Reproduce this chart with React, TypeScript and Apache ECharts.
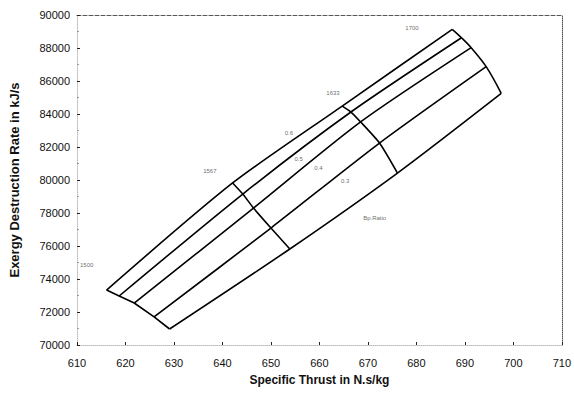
import React, { useEffect, useRef } from "react";
import * as echarts from "echarts";

// Carpet plot nodes: one array per temperature cross-line, points ordered from top curve to bottom curve
const temperatures = ["1500", "1567", "1633", "1700"];
const ratioLabels = ["0.6", "0.5", "0.4", "0.3"];

const thrustT1 = [616.1, 618.7, 621.8, 625.9, 629.1];
const exergyT1 = [73330, 72970, 72545, 71700, 70970];
const thrustT2 = [642.1, 644.2, 646.4, 650.0, 653.9];
const exergyT2 = [79820, 79150, 78300, 77090, 75820];
const thrustT3 = [664.7, 666.5, 668.5, 672.4, 676.1];
const exergyT3 = [84480, 84120, 83520, 82240, 80420];
const thrustT4 = [687.4, 689.3, 691.3, 694.4, 697.5];
const exergyT4 = [89130, 88620, 88020, 86870, 85250];

// label anchor positions (data coordinates)
const tempLabelX = [612.0, 637.4, 662.8, 679.1];
const tempLabelY = [74840, 80540, 85270, 89210];
const ratioLabelX = [653.7, 655.7, 659.8, 665.3];
const ratioLabelY = [82850, 81270, 80730, 79940];
const noteLabel = { text: "Bp.Ratio", x: 671.4, y: 77700 };

const xTicks = { min: 610, max: 710, interval: 10 };
const yTicks = { min: 70000, max: 90000, interval: 2000 };

const crossSmooth = [0, 0.15, 0.2, 0.35];

export default function App() {
  const ref = useRef<HTMLDivElement>(null);
  useEffect(() => {
    if (!ref.current) return;
    const chart = echarts.init(ref.current, null, { renderer: "svg" });
    const thrust = [thrustT1, thrustT2, thrustT3, thrustT4];
    const exergy = [exergyT1, exergyT2, exergyT3, exergyT4];
    const lineStyle = { color: "#000", width: 1.6 };
    const series: any[] = [];
    // cross lines (constant temperature)
    for (let t = 0; t < thrust.length; t++) {
      series.push({
        type: "line",
        name: "T" + temperatures[t],
        data: thrust[t].map((x, i) => [x, exergy[t][i]]),
        smooth: crossSmooth[t],
        symbol: "none",
        lineStyle,
        silent: true,
      });
    }
    // curves (constant ratio)
    for (let c = 0; c < thrustT1.length; c++) {
      series.push({
        type: "line",
        name: "C" + c,
        data: thrust.map((arr, t) => [arr[c], exergy[t][c]]),
        smooth: 0.25,
        symbol: "none",
        lineStyle,
        silent: true,
      });
    }
    const labelData = [
      ...temperatures.map((n, i) => ({ name: n, value: [tempLabelX[i], tempLabelY[i]] })),
      ...ratioLabels.map((n, i) => ({ name: n, value: [ratioLabelX[i], ratioLabelY[i]] })),
      { name: noteLabel.text, value: [noteLabel.x, noteLabel.y] },
    ];
    series.push({
      type: "scatter",
      symbolSize: 1,
      itemStyle: { color: "rgba(0,0,0,0)" },
      data: labelData,
      label: {
        show: true,
        position: "inside",
        formatter: (p: any) => p.name,
        fontSize: 6,
        color: "#444",
        fontFamily: "Liberation Sans",
      },
      silent: true,
    });

    const axisFont = { fontFamily: "Liberation Sans", color: "#111", fontSize: 11 };
    chart.setOption({
      animation: false,
      backgroundColor: "#fff",
      grid: { left: 75, right: 7, top: 15, bottom: 51 },
      xAxis: [
        {
          type: "value",
          ...xTicks,
          name: "Specific Thrust in N.s/kg",
          nameLocation: "middle",
          nameGap: 29,
          nameTextStyle: { fontFamily: "Liberation Sans", fontWeight: "bold", fontSize: 12, color: "#111" },
          axisLine: { show: true, lineStyle: { color: "#bbb", type: "dotted", width: 1 } },
          axisTick: { show: true, inside: true, length: 3, lineStyle: { color: "#222" } },
          axisLabel: { ...axisFont, margin: 12, formatter: (v: number) => String(v) },
          splitLine: { show: false },
        },
        {
          type: "value",
          ...xTicks,
          position: "top",
          axisLine: { show: true, lineStyle: { color: "#555", type: "dashed", width: 1 } },
          axisTick: { show: false },
          axisLabel: { show: false },
          splitLine: { show: false },
        },
      ],
      yAxis: [
        {
          type: "value",
          ...yTicks,
          name: "Exergy Destruction Rate in kJ/s",
          nameLocation: "middle",
          nameGap: 56,
          nameTextStyle: { fontFamily: "Liberation Sans", fontWeight: "bold", fontSize: 13, color: "#111" },
          axisLine: { show: true, lineStyle: { color: "#bbb", type: "dotted", width: 1 } },
          axisTick: { show: true, inside: true, length: 3, lineStyle: { color: "#222" } },
          minorTick: { show: true, splitNumber: 2, length: 2, lineStyle: { color: "#999" } },
          axisLabel: { ...axisFont, margin: 7, formatter: (v: number) => String(v) },
          splitLine: { show: false },
        },
        {
          type: "value",
          ...yTicks,
          position: "right",
          axisLine: { show: true, lineStyle: { color: "#555", type: "dotted", width: 1 } },
          axisTick: { show: false },
          axisLabel: { show: false },
          splitLine: { show: false },
        },
      ],
      series,
    });
    return () => chart.dispose();
  }, []);
  return <div ref={ref} style={{ width: 574, height: 396, position: "absolute", left: 0, top: 0 }} />;
}
